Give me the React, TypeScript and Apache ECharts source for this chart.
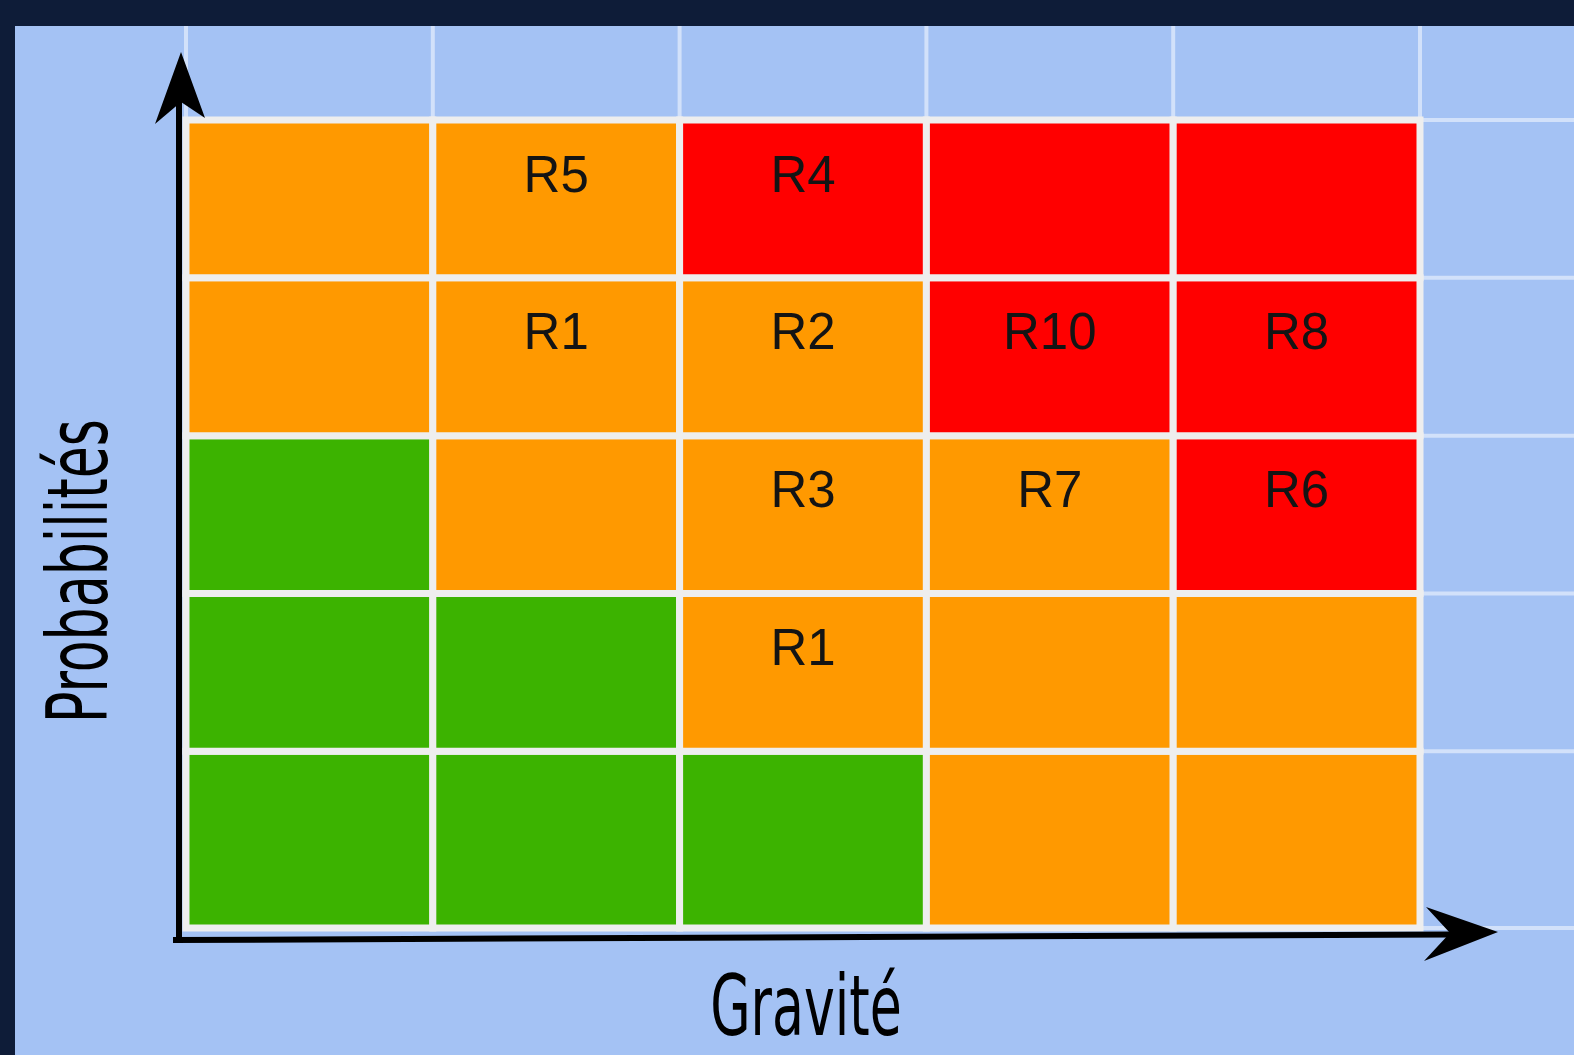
import React, { useEffect, useRef } from "react";
import * as echarts from "echarts";

// Gravity (x) and probability (y) levels
const gravityLevels = [1, 2, 3, 4, 5];
const probabilityLevels = [1, 2, 3, 4, 5];

// Risk level of each cell: rows = probability 1..5 (bottom to top), columns = gravity 1..5
// 0 = low (green), 1 = medium (orange), 2 = high (red)
const riskLevels = [
  [0, 0, 0, 1, 1],
  [0, 0, 1, 1, 1],
  [0, 1, 1, 1, 2],
  [1, 1, 1, 2, 2],
  [1, 1, 2, 2, 2],
];

// Risk labels placed in each cell (same layout)
const riskLabels = [
  ["", "", "", "", ""],
  ["", "", "R1", "", ""],
  ["", "", "R3", "R7", "R6"],
  ["", "R1", "R2", "R10", "R8"],
  ["", "R5", "R4", "", ""],
];

const levelColors = ["#3cb300", "#ff9900", "#ff0000"];

const xAxisTitle = "Gravité";
const yAxisTitle = "Probabilités";

// spreadsheet row heights (relative), probability rows 1..5
const rowHeights = [1.12, 1, 1, 1, 1];

export default function App() {
  const ref = useRef<HTMLDivElement>(null);

  useEffect(() => {
    if (!ref.current) return;
    const chart = echarts.init(ref.current, null, { renderer: "svg" });

    const yEdges: number[] = [0];
    rowHeights.forEach((h, i) => yEdges.push(yEdges[i] + h));

    const cells: number[][] = [];
    probabilityLevels.forEach((p, r) => {
      gravityLevels.forEach((g, c) => {
        cells.push([c, r, riskLevels[r][c]]);
      });
    });

    chart.setOption({
      animation: false,
      backgroundColor: "#0e1c38",
      grid: {
        show: true,
        left: 15,
        right: 0,
        top: 26,
        bottom: 0,
        backgroundColor: "#a4c2f4",
        borderWidth: 0,
      },
      xAxis: { type: "value", min: -0.6929, max: 5.624, show: false },
      yAxis: { type: "value", min: -0.8048, max: 5.7157, show: false },
      series: [
        {
          type: "custom",
          data: cells,
          z: 5,
          renderItem: (params: any, api: any) => {
            const c = api.value(0);
            const r = api.value(1);
            const lvl = api.value(2);
            const p0 = api.coord([c, yEdges[r + 1]]);
            const p1 = api.coord([c + 1, yEdges[r]]);
            const label = riskLabels[r][c];
            const children: any[] = [
              {
                type: "rect",
                shape: { x: p0[0], y: p0[1], width: p1[0] - p0[0], height: p1[1] - p0[1] },
                style: { fill: levelColors[lvl], stroke: "#eeeeee", lineWidth: 7 },
              },
            ];
            if (label) {
              children.push({
                type: "text",
                x: (p0[0] + p1[0]) / 2,
                y: p0[1] + 54,
                style: {
                  text: label,
                  font: "51px 'Liberation Sans', Arial, sans-serif",
                  fill: "#141414",
                  align: "center",
                  verticalAlign: "middle",
                },
              });
            }
            return { type: "group", children };
          },
        },
      ],
    });

    // decorative spreadsheet lines and axes arrows
    const px = (x: number, y: number) => chart.convertToPixel({ gridIndex: 0 }, [x, y]) as number[];
    const topY = px(0, yEdges[5])[1];
    const graphics: any[] = [];
    gravityLevels.concat([6]).forEach((_, i) => {
      const x = px(i, 0)[0];
      graphics.push({
        type: "line",
        z: 1,
        shape: { x1: x, y1: 26, x2: x, y2: topY - 3 },
        style: { stroke: "rgba(255,255,255,0.5)", lineWidth: 4 },
      });
    });
    yEdges.forEach((v) => {
      const p = px(5, v);
      graphics.push({
        type: "line",
        z: 1,
        shape: { x1: p[0] + 3, y1: p[1], x2: 1574, y2: p[1] },
        style: { stroke: "rgba(255,255,255,0.5)", lineWidth: 4 },
      });
    });
    graphics.push(
      {
        type: "line",
        z: 50,
        shape: { x1: 179, y1: 943, x2: 179, y2: 100 },
        style: { stroke: "#000", lineWidth: 6 },
      },
      {
        type: "line",
        z: 50,
        shape: { x1: 173, y1: 940, x2: 1452, y2: 934.5 },
        style: { stroke: "#000", lineWidth: 6 },
      },
      {
        type: "polygon",
        z: 51,
        shape: { points: [[181, 52], [205, 118], [181, 102], [155, 124]] },
        style: { fill: "#000" },
      },
      {
        type: "polygon",
        z: 51,
        shape: { points: [[1498, 932], [1426, 907], [1450, 933], [1424, 961]] },
        style: { fill: "#000" },
      },
      {
        type: "text",
        z: 60,
        x: 806,
        y: 1006,
        scaleX: 0.69,
        style: {
          text: xAxisTitle,
          font: "84px 'DejaVu Sans Condensed', sans-serif",
          fill: "#000",
          align: "center",
          verticalAlign: "middle",
        },
      },
      {
        type: "text",
        z: 60,
        x: 78,
        y: 571,
        rotation: Math.PI / 2,
        scaleX: 0.69,
        style: {
          text: yAxisTitle,
          font: "84px 'DejaVu Sans Condensed', sans-serif",
          fill: "#000",
          align: "center",
          verticalAlign: "middle",
        },
      }
    );
    chart.setOption({ graphic: graphics });

    return () => chart.dispose();
  }, []);

  return (
    <div
      ref={ref}
      style={{ position: "fixed", left: 0, top: 0, width: 1574, height: 1055 }}
    />
  );
}
